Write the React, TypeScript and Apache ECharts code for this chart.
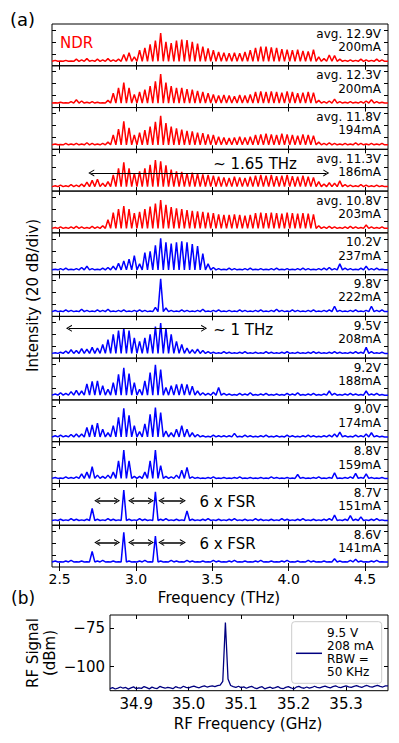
import React, { useEffect, useRef } from "react";
import * as echarts from "echarts";

const FONT = '"DejaVu Sans", sans-serif';

// ---------- (a) THz spectra ----------
// Fabry-Perot mode comb of the laser (THz)
const MODE_START_THZ = 2.4715;
const FSR_THZ = 0.0345;
const FREQ_MIN = 2.45;
const FREQ_MAX = 4.65;
const FREQ_TICKS = [2.5, 3.0, 3.5, 4.0, 4.5];
const INTENSITY_TICKS = [20, 40, 60];

const VOLTAGE_LABELS = [
  "avg. 12.9V", "avg. 12.3V", "avg. 11.8V", "avg. 11.3V", "avg. 10.8V",
  "10.2V", "9.8V", "9.5V", "9.2V", "9.0V", "8.8V", "8.7V", "8.6V",
];
const CURRENT_LABELS = [
  "200mA", "200mA", "194mA", "186mA", "203mA",
  "237mA", "222mA", "208mA", "188mA", "174mA", "159mA", "151mA", "141mA",
];
const IS_NDR = [true, true, true, true, true, false, false, false, false, false, false, false, false];
const FLOOR_DB = [7.5, 7.5, 7.5, 7.5, 7.5, 8, 8, 8, 8, 8, 8.5, 8, 8.5];

// Peak level (dB, 20 dB/div) of each mode, one array per bias point
const S_12_9 = [9, 8, 9, 8, 11, 10, 12, 9, 11, 10, 12, 10, 11,
  19, 22, 15, 26, 30, 36, 42, 55, 40, 38, 42, 44, 43, 40, 37, 32, 29, 26,
  23, 22, 21, 22, 21, 23, 26, 30, 32, 32, 31, 30, 28, 27, 26, 27, 25, 24, 27,
  15, 12, 18, 17, 11, 9, 10, 9, 11, 10, 9, 11, 10];
const S_12_3 = [8, 9, 8, 10, 13, 11, 9, 10, 9, 8, 12,
  24, 33, 42, 33, 22, 26, 30, 36, 44, 56, 42, 36, 33, 33, 31, 30, 28, 26, 24, 22,
  20, 21, 20, 19, 21, 20, 22,
  26, 27, 26, 27, 26, 25, 27, 26, 24, 25, 26, 25,
  12, 10, 11, 14, 10, 9, 10, 9, 10, 11, 13, 10, 9];
const S_11_8 = [9, 8, 10, 9, 10, 9, 11, 10, 9, 10, 12,
  24, 34, 47, 36, 24, 28, 32, 38, 46, 56, 44, 38, 35, 33, 31, 30, 28, 27, 25, 24,
  21, 20, 19, 20, 21, 20, 21,
  24, 25, 26, 25, 24, 26, 25, 24, 23, 25, 24, 23,
  12, 10, 11, 10, 9, 10, 9, 11, 10, 9, 10, 9, 10];
const S_11_3 = [9, 10, 9, 11, 10, 12, 15, 18, 20, 13, 16,
  27, 38, 48, 38, 30, 33, 38, 44, 52, 50, 43, 36, 33, 32, 30, 31, 29, 28, 27, 26,
  24, 23, 22, 24, 23, 22, 24,
  26, 27, 26, 27, 25, 26, 27, 25, 24, 26, 24, 23,
  16, 12, 14, 13, 17, 11, 10, 9, 11, 10, 9, 10, 9];
const S_10_8 = [9, 10, 9, 10, 11, 10, 9, 11, 10, 12, 22,
  34, 40, 45, 40, 33, 35, 40, 44, 49, 55, 47, 43, 41, 40, 38, 37, 36, 35, 34, 33,
  31, 30, 30, 31, 30, 29, 30,
  33, 34, 33, 34, 33, 32, 34, 33, 32, 33, 32, 31,
  12, 10, 11, 10, 9, 10, 11, 10, 9, 13, 10, 9, 10];
const S_10_2 = [9, 10, 11, 9, 10, 12, 14, 10, 9, 11, 12, 14, 19,
  23, 26, 32, 18, 37, 39, 49, 61, 54, 52, 54, 56, 54, 51, 48, 35, 18, 12,
  10, 9, 11, 10, 9, 10, 11, 9, 10, 9, 10, 11, 9, 10, 9, 10, 11, 10, 9, 10,
  11, 12, 10, 18, 11, 10, 9, 11, 14, 10, 11, 9];
const S_9_8 = [10, 9, 11, 10, 9, 12, 10, 9, 11, 10, 12, 9, 10, 11, 9, 10, 11, 10, 9,
  15, 63, 14,
  10, 9, 11, 10, 9, 10, 12, 9, 10, 11, 9, 10, 9, 11, 10, 9, 10, 11, 9, 10, 12,
  10, 9, 11, 10, 9, 10, 11, 9, 10, 11, 17, 10, 9, 10, 11, 9, 10, 17, 10, 11];
const S_9_5 = [9, 10, 12, 14, 13, 16, 15, 18, 17, 23, 31, 40, 46, 50, 46, 34, 28, 34, 40, 53,
  59, 50, 40, 28, 23, 17, 14, 15, 13,
  11, 10, 9, 11, 10, 9, 10, 11, 9, 10, 9, 11, 10, 9, 10, 11, 9, 10, 9, 10,
  11, 10, 9, 10, 11, 10, 9, 10, 11, 10, 18, 11, 9, 10];
const S_9_2 = [10, 12, 11, 14, 16, 15, 27, 31, 32, 24, 18, 29, 43, 54, 44, 29, 18, 32, 46, 59,
  51, 21, 24, 26, 27, 26, 23, 15, 12, 11, 13, 21,
  11, 10, 9, 11, 10, 12, 9, 10, 11, 9, 10, 9, 11, 10, 12, 9, 10, 11, 9, 10,
  15, 11, 9, 10, 11, 10, 9, 15, 10, 11, 9];
const S_9_0 = [10, 11, 10, 12, 13, 13, 24, 28, 31, 21, 15, 27, 41, 56, 44, 27, 17, 30, 46, 57,
  49, 18, 15, 21, 27, 21, 15, 12,
  10, 9, 11, 10, 10, 10, 14, 9, 11, 10, 9, 10, 11, 9, 10, 9, 11, 10, 9, 10,
  11, 10, 9, 10, 11, 13, 16, 10, 9, 11, 10, 13, 15, 10, 9];
const S_8_8 = [10, 9, 11, 10, 11, 16, 19, 28, 14, 12, 14, 19, 38, 56, 38, 12, 12, 19, 38, 56,
  30, 12, 11, 14, 22, 27, 11,
  10, 9, 10, 11, 9, 10, 9, 10, 11, 9, 10, 9, 10, 9, 11, 10, 9, 10, 9, 15,
  10, 9, 10, 11, 9, 10, 18, 9, 10, 11, 17, 10, 16, 10, 9, 10];
const S_8_7 = [9, 10, 9, 11, 10, 9, 10, 28, 10, 9, 11, 10, 9, 59, 10, 9, 11, 10, 9, 56,
  10, 11, 9, 10, 9, 24, 10,
  9, 10, 11, 9, 10, 9, 10, 11, 9, 10, 9, 11, 10, 9, 10, 9, 11, 10, 9, 10,
  11, 9, 10, 9, 10, 11, 17, 9, 10, 16, 10, 14, 9, 10, 11, 9];
const S_8_6 = [10, 9, 10, 11, 9, 10, 9, 26, 10, 11, 9, 10, 9, 58, 10, 9, 10, 11, 9, 52,
  10, 9, 11, 10, 9, 11, 10,
  9, 10, 9, 11, 10, 9, 10, 11, 9, 10, 9, 10, 11, 9, 10, 9, 10, 11, 9, 10,
  9, 11, 10, 9, 10, 9, 14, 10, 9, 11, 13, 10, 9, 10, 11, 9];
const SPECTRA = [S_12_9, S_12_3, S_11_8, S_11_3, S_10_8, S_10_2, S_9_8, S_9_5, S_9_2, S_9_0, S_8_8, S_8_7, S_8_6];

// Annotation arrows (THz from, THz to, dB level)
const WIDE_ARROWS = [
  { panel: 3, from: 2.707, to: 4.246, level: 30.5, text: "~ 1.65 THz", textFreq: 3.505, dy: -9.3 },
  { panel: 7, from: 2.561, to: 3.446, level: 50, text: "~ 1 THz", textFreq: 3.505, dy: 1.7 },
];
const FSR_ARROW_PANELS = [11, 12];
const FSR_ARROW_SPANS = [[2.746, 2.876], [2.968, 3.098], [3.165, 3.307]];
const FSR_ARROW_LEVEL = 41;
const FSR_TEXT = "6 x FSR";
const FSR_TEXT_FREQ = 3.415;

// ---------- (b) RF beat note ----------
const RF_START_GHZ = 34.85;
const RF_STEP_GHZ = 0.005;
const RF_MIN = 34.85;
const RF_MAX = 35.38;
const RF_TICKS = [34.9, 35.0, 35.1, 35.2, 35.3];
const RF_Y_TICKS = [-100, -75];
const RF_DBM = [
  -114.2, -113.6, -114.5, -113.9, -113.2, -114.0, -113.5, -114.6, -113.8, -113.1,
  -114.3, -113.7, -114.1, -112.9, -113.6, -114.4, -113.3, -113.9, -114.2, -112.8,
  -113.5, -114.0, -113.4, -113.8, -114.3, -113.0, -113.6, -113.9, -112.7, -113.4,
  -113.8, -113.1, -112.6, -113.3, -113.7, -112.9, -112.4, -113.2, -112.8, -112.5,
  -113.0, -112.3, -111.9, -109.5, -71.2, -108.0,
  -112.2, -112.9, -113.4, -112.7, -113.6, -113.1, -114.0, -113.3, -112.8, -113.7,
  -114.2, -113.5, -113.0, -114.4, -113.8, -113.2, -114.1, -113.6, -112.9, -113.9,
  -114.3, -113.4, -113.0, -113.7, -114.5, -113.3, -112.8, -113.6, -114.0, -113.2,
  -113.9, -113.5, -112.7, -113.4, -113.8, -113.1, -112.6, -113.3, -113.7, -113.0,
  -112.5, -113.2, -113.6, -112.9, -112.4, -113.1, -113.5, -112.8, -112.3, -113.0,
  -113.4, -112.7, -112.2, -112.9, -113.3, -112.6, -112.1, -112.8, -113.2, -112.5,
  -112.4,
];
const RF_LEGEND_LINES = ["9.5 V", "208 mA", "RBW =", "50 KHz"];

// ---------- layout ----------
const PANEL_TOP = 24;
const PANEL_H = 41.77;
const PLOT_LEFT = 52;
const PLOT_W = 336;
const Y_MAX = 70;
const RF_GRID = { left: 110, top: 615, width: 278, height: 75.7 };
const RF_Y_MIN = -115.6;
const RF_Y_MAX = -66.3;

const RED = "#ff0000";
const BLUE = "#0000ff";
const NAVY = "#000080";
const CHEVRON = "path://M5,0 L10,10 L8.4,10 L5,3.2 L1.6,10 L0,10 Z";

function spectrumPoints(levels: number[], floor: number): number[][] {
  const pts: number[][] = [[FREQ_MIN, floor]];
  levels.forEach((v, i) => {
    const f = MODE_START_THZ + i * FSR_THZ;
    pts.push([f - FSR_THZ / 2, floor]);
    pts.push([f, v]);
  });
  const last = MODE_START_THZ + (levels.length - 1) * FSR_THZ;
  pts.push([last + FSR_THZ / 2, floor]);
  pts.push([FREQ_MAX, floor]);
  return pts;
}

function xPix(f: number) {
  return PLOT_LEFT + ((f - FREQ_MIN) / (FREQ_MAX - FREQ_MIN)) * PLOT_W;
}
function yPix(panel: number, db: number) {
  return PANEL_TOP + (panel + 1) * PANEL_H - (db / Y_MAX) * PANEL_H;
}

function text(t: string, x: number, y: number, size: number, opts: any = {}) {
  return {
    type: "text",
    x,
    y,
    rotation: opts.rotation || 0,
    z: 100,
    silent: true,
    style: {
      text: t,
      x: 0,
      y: 0,
      fill: opts.color || "#000",
      font: `${size}px ${FONT}`,
      align: opts.align || "left",
      verticalAlign: "middle",
      textAlign: opts.align || "left",
      textVerticalAlign: "middle",
    },
  };
}

function buildOption() {
  const grids: any[] = [];
  const xAxes: any[] = [];
  const yAxes: any[] = [];
  const series: any[] = [];
  const graphics: any[] = [];
  const tickStyle = { color: "#000", width: 1 };

  SPECTRA.forEach((levels, p) => {
    grids.push({
      left: PLOT_LEFT,
      top: PANEL_TOP + p * PANEL_H,
      width: PLOT_W,
      height: PANEL_H,
      show: true,
      borderColor: "#000",
      borderWidth: 1,
      backgroundColor: "transparent",
      containLabel: false,
      outerBoundsMode: "none",
    });
    const isLast = p === SPECTRA.length - 1;
    ["bottom", "top"].forEach((pos) => {
      xAxes.push({
        gridIndex: p,
        type: "value",
        position: pos,
        min: FREQ_MIN,
        max: FREQ_MAX,
        axisLine: { show: false },
        splitLine: { show: false },
        axisTick: { show: true, inside: true, length: 4, customValues: FREQ_TICKS, lineStyle: tickStyle },
        axisLabel: {
          show: isLast && pos === "bottom",
          customValues: FREQ_TICKS,
          formatter: (v: number) => v.toFixed(1),
          color: "#000",
          fontSize: 14,
          fontFamily: FONT,
          margin: 5,
        },
      });
    });
    ["left", "right"].forEach((pos) => {
      yAxes.push({
        gridIndex: p,
        type: "value",
        position: pos,
        min: 0,
        max: Y_MAX,
        axisLine: { show: false },
        splitLine: { show: false },
        axisTick: { show: true, inside: true, length: 4, customValues: INTENSITY_TICKS, lineStyle: tickStyle },
        axisLabel: { show: false },
      });
    });

    const color = IS_NDR[p] ? RED : BLUE;
    const markData: any[] = [];
    let arrowWidth = 1;
    WIDE_ARROWS.filter((a) => a.panel === p).forEach((a) => {
      markData.push([{ coord: [a.from, a.level] }, { coord: [a.to, a.level] }]);
    });
    if (FSR_ARROW_PANELS.includes(p)) {
      arrowWidth = 1.5;
      FSR_ARROW_SPANS.forEach(([a, b]) => {
        markData.push([{ coord: [a, FSR_ARROW_LEVEL] }, { coord: [b, FSR_ARROW_LEVEL] }]);
      });
    }

    series.push({
      type: "line",
      xAxisIndex: 2 * p,
      yAxisIndex: 2 * p,
      data: spectrumPoints(levels, FLOOR_DB[p]),
      symbol: "none",
      showSymbol: false,
      silent: true,
      lineStyle: { color, width: 1.5 },
      itemStyle: { color },
      z: 3,
      markLine: markData.length
        ? {
            silent: true,
            animation: false,
            symbol: [CHEVRON, CHEVRON],
            symbolSize: [7, 6],
            label: { show: false },
            lineStyle: { color: "#000", width: arrowWidth, type: "solid" },
            itemStyle: { color: "#000" },
            emphasis: { disabled: true },
            data: markData,
          }
        : undefined,
    });

    const top = PANEL_TOP + p * PANEL_H;
    graphics.push(text(VOLTAGE_LABELS[p], 381, top + 9.5, 12, { align: "right" }));
    graphics.push(text(CURRENT_LABELS[p], 381, top + 22.8, 12, { align: "right" }));
  });

  // annotations
  graphics.push(text("NDR", 60, PANEL_TOP + 19.3, 15, { color: RED }));
  WIDE_ARROWS.forEach((a) => {
    graphics.push(text(a.text, xPix(a.textFreq), yPix(a.panel, a.level) + a.dy, 15));
  });
  FSR_ARROW_PANELS.forEach((p) => {
    graphics.push(text(FSR_TEXT, xPix(FSR_TEXT_FREQ), yPix(p, FSR_ARROW_LEVEL) + 1.5, 15));
  });

  graphics.push(text("(a)", 10, 19, 18));
  graphics.push(text("(b)", 11, 598, 17));
  graphics.push(text("Frequency (THz)", PLOT_LEFT + PLOT_W / 2 - 1, 598, 15, { align: "center" }));
  graphics.push(
    text("Intensity (20 dB/div)", 33, PANEL_TOP + (SPECTRA.length * PANEL_H) / 2, 15, {
      align: "center",
      rotation: Math.PI / 2,
    })
  );

  // ---------- (b) ----------
  const g = SPECTRA.length;
  grids.push({
    ...RF_GRID,
    show: true,
    borderColor: "#000",
    borderWidth: 1,
    backgroundColor: "transparent",
    containLabel: false,
    outerBoundsMode: "none",
  });
  ["bottom", "top"].forEach((pos) => {
    xAxes.push({
      gridIndex: g,
      type: "value",
      position: pos,
      min: RF_MIN,
      max: RF_MAX,
      axisLine: { show: false },
      splitLine: { show: false },
      axisTick: { show: true, inside: true, length: 4, customValues: RF_TICKS, lineStyle: tickStyle },
      axisLabel: {
        show: pos === "bottom",
        customValues: RF_TICKS,
        formatter: (v: number) => v.toFixed(1),
        color: "#000",
        fontSize: 15,
        fontFamily: FONT,
        margin: 6,
      },
    });
  });
  ["left", "right"].forEach((pos) => {
    yAxes.push({
      gridIndex: g,
      type: "value",
      position: pos,
      min: RF_Y_MIN,
      max: RF_Y_MAX,
      axisLine: { show: false },
      splitLine: { show: false },
      axisTick: { show: true, inside: true, length: 4, customValues: RF_Y_TICKS, lineStyle: tickStyle },
      axisLabel: {
        show: pos === "left",
        customValues: RF_Y_TICKS,
        formatter: (v: number) => (v < 0 ? "\u2212" + Math.abs(v) : String(v)),
        color: "#000",
        fontSize: 15,
        fontFamily: FONT,
        margin: 5,
      },
    });
  });
  series.push({
    type: "line",
    xAxisIndex: 2 * g,
    yAxisIndex: 2 * g,
    data: RF_DBM.map((v, i) => [RF_START_GHZ + i * RF_STEP_GHZ, v]),
    symbol: "none",
    showSymbol: false,
    silent: true,
    lineStyle: { color: NAVY, width: 1.3 },
  });

  graphics.push({
    type: "rect",
    z: 100,
    silent: true,
    shape: { x: 291.7, y: 621.7, width: 90, height: 61.6, r: 3 },
    style: { fill: "rgba(255,255,255,0.85)", stroke: "#cccccc", lineWidth: 1 },
  });
  graphics.push({
    type: "line",
    z: 101,
    silent: true,
    shape: { x1: 296, y1: 653.3, x2: 322, y2: 653.3 },
    style: { stroke: NAVY, lineWidth: 1.5 },
  });
  RF_LEGEND_LINES.forEach((t, i) => {
    const el: any = text(t, 327, 633.3 + i * 13, 12);
    el.z = 101;
    graphics.push(el);
  });
  graphics.push(text("RF Frequency (GHz)", 248, 724, 15, { align: "center" }));
  graphics.push(text("RF Signal", 33, 653, 15, { align: "center", rotation: Math.PI / 2 }));
  graphics.push(text("(dBm)", 50, 653, 15, { align: "center", rotation: Math.PI / 2 }));

  return {
    animation: false,
    backgroundColor: "#ffffff",
    textStyle: { fontFamily: FONT },
    grid: grids,
    xAxis: xAxes,
    yAxis: yAxes,
    series,
    graphic: { elements: graphics },
  };
}

export default function App() {
  const ref = useRef<HTMLDivElement>(null);
  useEffect(() => {
    if (!ref.current) return;
    const chart = echarts.init(ref.current, undefined, { renderer: "svg" });
    chart.setOption(buildOption() as any);
    return () => chart.dispose();
  }, []);
  return (
    <div
      ref={ref}
      style={{ position: "absolute", left: 0, top: 0, width: 399, height: 743 }}
    />
  );
}
